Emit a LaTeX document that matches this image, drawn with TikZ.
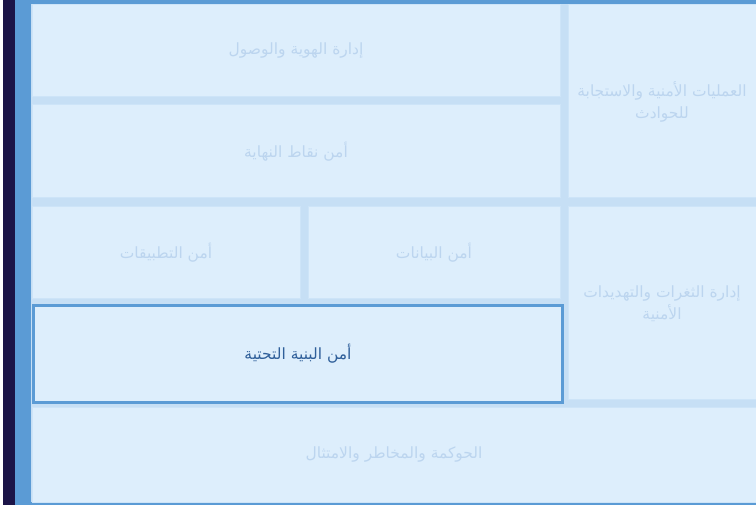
\documentclass[tikz,border=0pt]{standalone}
\usepackage{fontspec}
\usepackage{tikz}
\usepackage{xcolor}
\TeXXeTstate=1
\newfontfamily\arabicfont[Script=Arabic]{DejaVu Sans}
\definecolor{sidenavy}{RGB}{27,20,71}
\definecolor{frameblue}{RGB}{91,155,213}
\definecolor{gapblue}{RGB}{198,223,245}
\definecolor{cellfill}{RGB}{221,238,252}
\definecolor{cellline}{RGB}{205,228,248}
\definecolor{fainttext}{RGB}{188,213,239}
\definecolor{activetext}{RGB}{47,95,154}

\begin{document}
\begin{tikzpicture}[x=1pt, y=-1pt,
    cell/.style={draw=cellline, line width=1pt, fill=cellfill, anchor=north west,
        inner sep=0pt, outer sep=0pt, align=center, text=fainttext,
        font=\arabicfont\fontsize{15.5}{22}\selectfont},
    activecell/.style={cell, draw=frameblue, line width=3pt, text=activetext}]
    \useasboundingbox (0,0) rectangle (756,505);

    % frame and side bars
    \fill[white] (0,0) rectangle (756,505);
    \fill[sidenavy] (3,0) rectangle (15,505);
    \fill[frameblue] (15,0) rectangle (756,505);
    \fill[gapblue] (31,4) rectangle (756,502);

    % top block
    \node[cell, minimum width=528, minimum height=92] (idm) at (32,5) {\beginR إدارة الهوية والوصول\endR};
    \node[cell, minimum width=528, minimum height=93] (endpoint) at (32,105) {\beginR أمن نقاط النهاية\endR};
    \node[cell, minimum width=188, minimum height=193] (secops) at (568,5)
        {\beginR العمليات الأمنية والاستجابة\endR\\\beginR للحوادث\endR};

    % middle block
    \node[cell, minimum width=268, minimum height=92] (appsec) at (32,207) {\beginR أمن التطبيقات\endR};
    \node[cell, minimum width=252, minimum height=92] (datasec) at (308,207) {\beginR أمن البيانات\endR};
    \node[activecell, minimum width=529, minimum height=97] (infra) at (33.5,305.5) {\beginR أمن البنية التحتية\endR};
    \node[cell, minimum width=188, minimum height=193] (vuln) at (568,207)
        {\beginR إدارة الثغرات والتهديدات\endR\\\beginR الأمنية\endR};

    % bottom block
    \node[cell, minimum width=724, minimum height=94] (grc) at (32,408) {\beginR الحوكمة والمخاطر والامتثال\endR};
\end{tikzpicture}
\end{document}
